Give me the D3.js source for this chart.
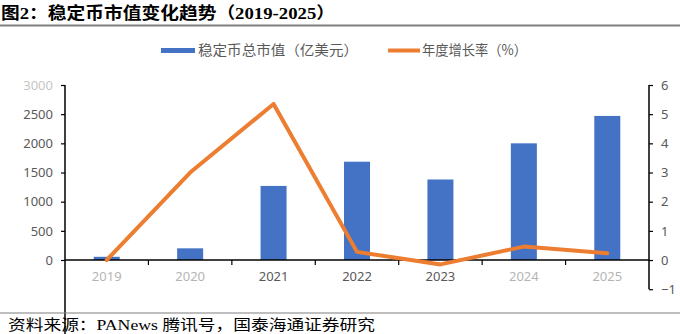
<!DOCTYPE html>
<html><head><meta charset="utf-8">
<script src="https://cdn.jsdelivr.net/npm/d3@7"></script>
<style>body{margin:0;background:#fff}</style>
</head><body><div id="chart"></div>
<script>
const years = ["2019","2020","2021","2022","2023","2024","2025"];
const marketCap = [55, 200, 1270, 1685, 1380, 2000, 2470];
const growth = [0, 3.0, 5.35, 0.28, -0.15, 0.46, 0.23];
const leftTicks = [0, 500, 1000, 1500, 2000, 2500, 3000];
const rightTicks = [-1, 0, 1, 2, 3, 4, 5, 6];
const titleText = "图2：稳定币市值变化趋势（2019-2025）";
const sourceText = "资料来源：PANews 腾讯号，国泰海通证券研究";
const legendLabels = ["稳定币总市值（亿美元）", "年度增长率（%）"];

const W = 680, H = 334;
const svg = d3.select("#chart").append("svg").attr("width", W).attr("height", H);
const left = 65, right = 649;
const x = d3.scaleBand().domain(years).range([left, right]).paddingInner(0).paddingOuter(0);
const yL = d3.scaleLinear().domain([0, 3000]).range([260, 85]);
const yR = d3.scaleLinear().domain([-1, 6]).range([289.2, 85]);
const tickFont = "'Noto Sans', 'Liberation Sans', sans-serif";
const gray = "#595959";
const fmt = d3.format("d");

// title
svg.append("text").attr("x", 1).attr("y", 19).text(titleText)
  .attr("font-family", "'Liberation Serif','Noto Sans CJK SC',serif").attr("font-weight", "bold")
  .attr("font-size", 16.5).attr("fill", "#000")
  .attr("textLength", 334).attr("lengthAdjust", "spacingAndGlyphs");
svg.append("line").attr("x1", 0).attr("x2", W).attr("y1", 25.5).attr("y2", 25.5)
  .attr("stroke", "#7f7f7f").attr("stroke-width", 2);

// legend
svg.append("rect").attr("x", 161).attr("y", 48).attr("width", 34).attr("height", 5).attr("fill", "#4472C4");
svg.append("text").attr("x", 198).attr("y", 55).text(legendLabels[0])
  .attr("font-family", "'Noto Sans CJK SC',sans-serif").attr("font-size", 14).attr("fill", gray)
  .attr("textLength", 160).attr("lengthAdjust", "spacingAndGlyphs");
svg.append("line").attr("x1", 388).attr("x2", 420).attr("y1", 50.5).attr("y2", 50.5)
  .attr("stroke", "#ED7D31").attr("stroke-width", 4);
svg.append("text").attr("x", 422).attr("y", 55).text(legendLabels[1])
  .attr("font-family", "'Noto Sans CJK SC',sans-serif").attr("font-size", 14).attr("fill", gray)
  .attr("textLength", 105).attr("lengthAdjust", "spacingAndGlyphs");

// bars
const bw = 26;
svg.append("g").selectAll("rect").data(marketCap).join("rect")
  .attr("x", (d, i) => x(years[i]) + x.bandwidth() / 2 - bw / 2)
  .attr("y", d => yL(d)).attr("width", bw).attr("height", d => yL(0) - yL(d))
  .attr("fill", "#4472C4");

// left axis
const gL = svg.append("g").attr("transform", `translate(${left},0)`)
  .call(d3.axisLeft(yL).tickValues(leftTicks).tickFormat(fmt).tickSize(4).tickPadding(8));
gL.select(".domain").remove();
gL.selectAll(".tick line").attr("stroke", "#000").attr("stroke-width", 1.2);
gL.selectAll(".tick text").attr("font-family", tickFont).attr("font-size", 13).attr("fill", gray)
  .attr("opacity", d => d === 3000 ? 0.35 : 1);
svg.append("line").attr("x1", left).attr("x2", left).attr("y1", 85).attr("y2", H)
  .attr("stroke", "#000").attr("stroke-width", 1.5);

// right axis
const gR = svg.append("g").attr("transform", `translate(${right},0)`)
  .call(d3.axisRight(yR).tickValues(rightTicks).tickFormat(fmt).tickSize(4).tickPadding(8));
gR.select(".domain").remove();
gR.selectAll(".tick line").attr("stroke", "#000").attr("stroke-width", 1.2);
gR.selectAll(".tick text").attr("font-family", tickFont).attr("font-size", 13).attr("fill", gray);
svg.append("line").attr("x1", right).attr("x2", right).attr("y1", yR(6)).attr("y2", yR(-1))
  .attr("stroke", "#000").attr("stroke-width", 1.5);

// x axis
const gX = svg.append("g").attr("transform", `translate(0,${yL(0)})`)
  .call(d3.axisBottom(x).tickSize(0).tickPadding(12));
gX.select(".domain").remove();
gX.selectAll(".tick text").attr("font-family", tickFont).attr("font-size", 13).attr("fill", gray)
  .attr("opacity", d => ["2019","2020","2024","2025"].includes(d) ? 0.45 : 1);
svg.append("g").selectAll("line").data(years.slice(1)).join("line")
  .attr("x1", d => x(d)).attr("x2", d => x(d)).attr("y1", yL(0)).attr("y2", yL(0) + 5)
  .attr("stroke", "#000").attr("stroke-width", 1.2);
svg.append("line").attr("x1", left).attr("x2", right).attr("y1", yL(0)).attr("y2", yL(0))
  .attr("stroke", "#000").attr("stroke-width", 1.5);

// line
const line = d3.line().x((d, i) => x(years[i]) + x.bandwidth() / 2).y(d => yR(d));
svg.append("path").datum(growth).attr("d", line).attr("fill", "none")
  .attr("stroke", "#ED7D31").attr("stroke-width", 4).attr("stroke-linejoin", "round").attr("stroke-linecap", "round");

// footer
svg.append("line").attr("x1", 0).attr("x2", W).attr("y1", 313).attr("y2", 313)
  .attr("stroke", "#7f7f7f").attr("stroke-width", 1.2);
svg.append("text").attr("x", 8).attr("y", 330).text(sourceText)
  .attr("font-family", "'Liberation Serif','Noto Sans CJK SC',serif")
  .attr("font-size", 15).attr("fill", "#000")
  .attr("textLength", 367).attr("lengthAdjust", "spacingAndGlyphs");
</script></body></html>
